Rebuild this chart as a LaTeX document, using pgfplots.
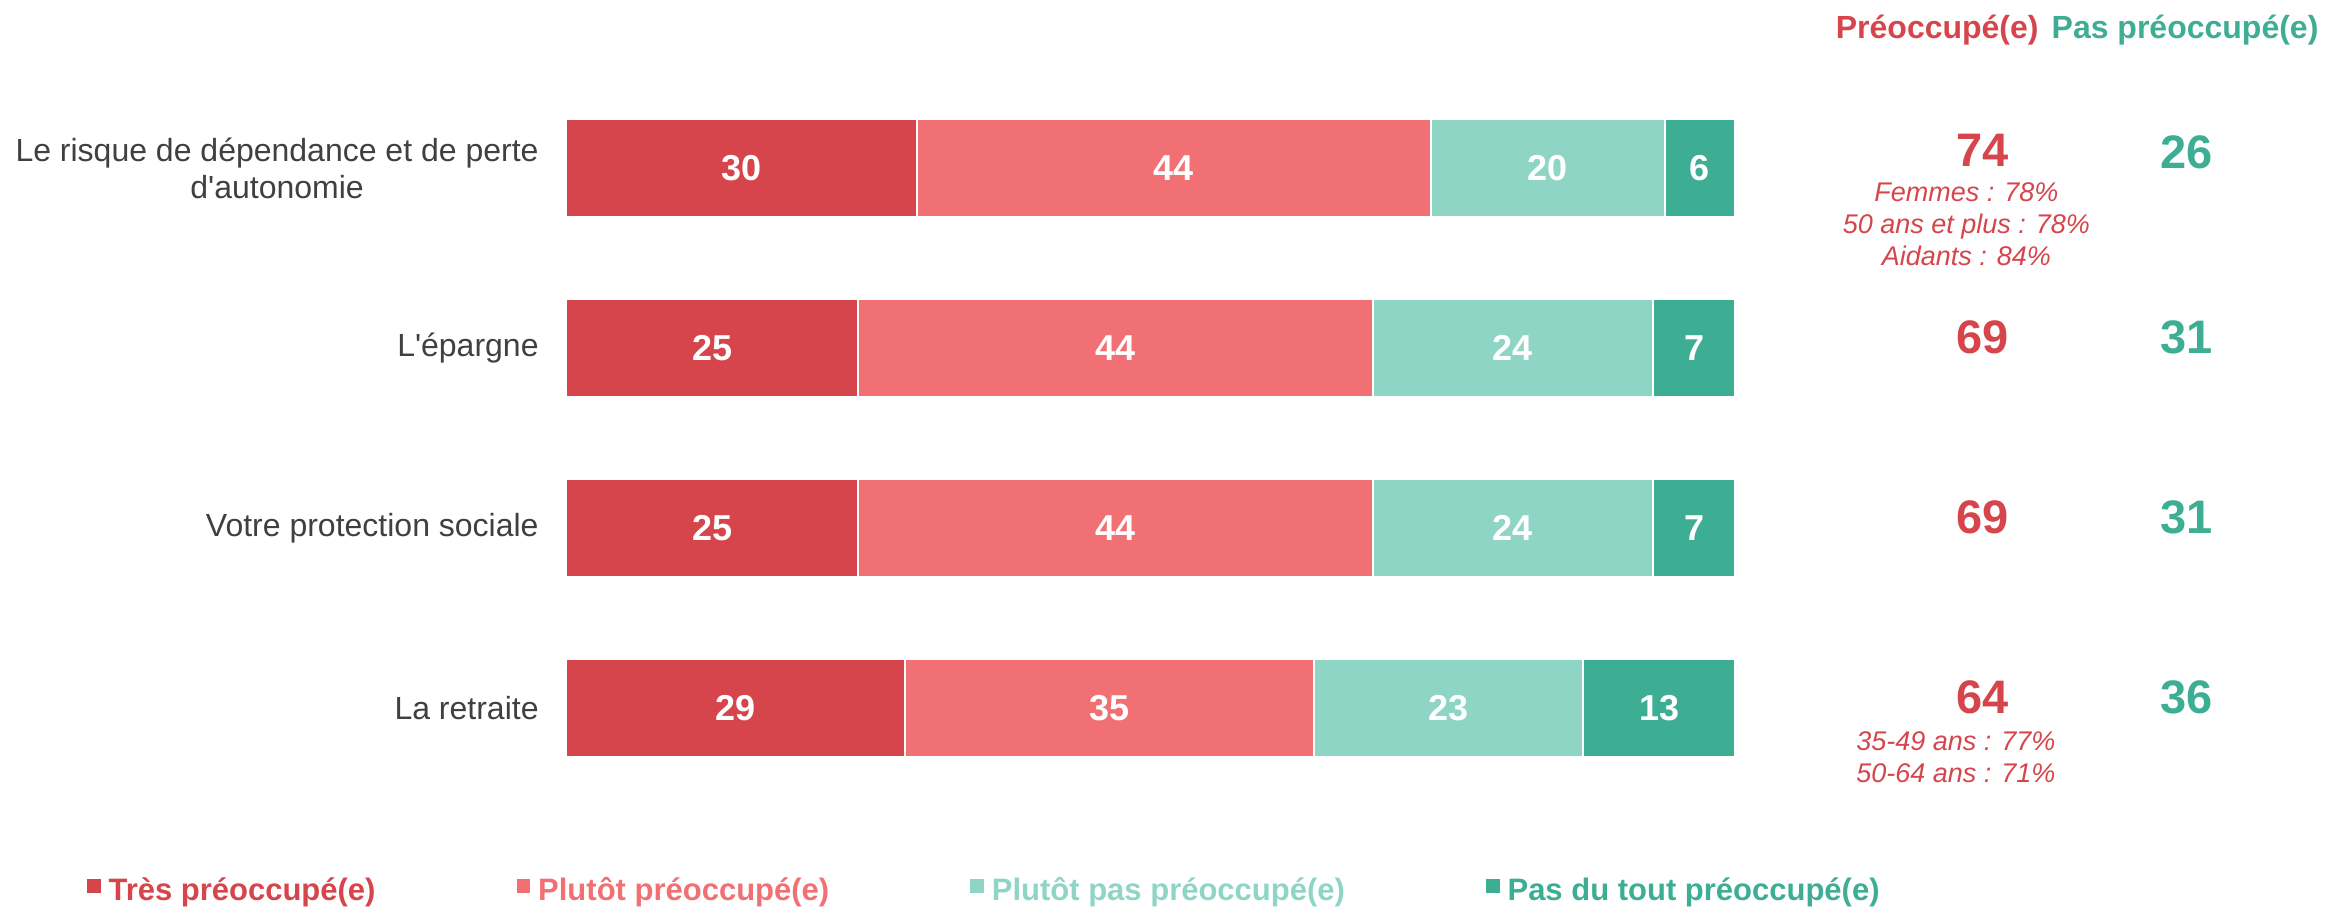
\documentclass[border=0pt]{standalone}
\usepackage{pgfplots}
\pgfplotsset{compat=1.18}
\usepackage{fontspec}
\setmainfont{Liberation Sans}
\definecolor{c1}{HTML}{D5454B}
\definecolor{c2}{HTML}{F07073}
\definecolor{c3}{HTML}{8FD5C6}
\definecolor{c4}{HTML}{3DAD94}
\definecolor{lab}{HTML}{404040}
\tikzset{
  bl/.style={text=white, font=\bfseries\fontsize{18}{20}\selectfont},
  cat/.style={text=lab, anchor=east, align=center, inner sep=0pt, xshift=-13.5pt, font=\fontsize{16}{18.5}\selectfont},
  hd/.style={font=\bfseries\fontsize{16}{19}\selectfont},
  tot/.style={font=\bfseries\fontsize{23.5}{26}\selectfont},
  sub/.style={text=c1, align=center, inner sep=0pt, font=\itshape\fontsize{13.5}{16}\selectfont},
}
\begin{document}
\begin{tikzpicture}
\useasboundingbox (0,0) rectangle (1164.5pt,453pt);
\begin{axis}[
  at={(283pt,54pt)}, anchor=south west,
  scale only axis, width=584.5pt, height=360pt,
  xbar stacked, bar width=49pt,
  xmin=0, xmax=100, ymin=-0.5, ymax=3.5, y dir=reverse,
  hide axis, clip=false,
  legend columns=4,
  legend cell align=left,
  legend style={at={(-0.4115,-0.128)}, anchor=west, draw=none, fill=none,
    inner sep=0pt, outer sep=0pt,
    font=\bfseries\fontsize{15.5}{18}\selectfont,
    /tikz/every odd column/.append style={column sep=1pt},
    /tikz/every even column/.append style={column sep=67.5pt}},
  legend image code/.code={\fill[#1] (0pt,-2pt) rectangle (7.8pt,6pt);},
]
\addplot[fill=c1, draw=white, line width=1pt] coordinates {(30,0) (25,1) (25,2) (29,3)};
\addlegendentry{\textcolor{c1}{Très préoccupé(e)}}
\addplot[fill=c2, draw=white, line width=1pt] coordinates {(44,0) (44,1) (44,2) (35,3)};
\addlegendentry{\textcolor{c2}{Plutôt préoccupé(e)}}
\addplot[fill=c3, draw=white, line width=1pt] coordinates {(20,0) (24,1) (24,2) (23,3)};
\addlegendentry{\textcolor{c3}{Plutôt pas préoccupé(e)}}
\addplot[fill=c4, draw=white, line width=1pt] coordinates {(6,0) (7,1) (7,2) (13,3)};
\addlegendentry{\textcolor{c4}{Pas du tout préoccupé(e)}}

\coordinate (a1) at (axis cs:15,0); \coordinate (a2) at (axis cs:52,0); \coordinate (a3) at (axis cs:84,0); \coordinate (a4) at (axis cs:97,0);
\coordinate (b1) at (axis cs:12.5,1); \coordinate (b2) at (axis cs:47,1); \coordinate (b3) at (axis cs:81,1); \coordinate (b4) at (axis cs:96.5,1);
\coordinate (c1) at (axis cs:12.5,2); \coordinate (c2) at (axis cs:47,2); \coordinate (c3) at (axis cs:81,2); \coordinate (c4) at (axis cs:96.5,2);
\coordinate (d1) at (axis cs:14.5,3); \coordinate (d2) at (axis cs:46.5,3); \coordinate (d3) at (axis cs:75.5,3); \coordinate (d4) at (axis cs:93.5,3);

\node[cat] at (axis cs:0,0) {Le risque de dépendance et de perte\\d\textquotesingle autonomie};
\node[cat] at (axis cs:0,1) {L\textquotesingle épargne};
\node[cat] at (axis cs:0,2) {Votre protection sociale};
\node[cat] at (axis cs:0,3) {La retraite};

\node[hd, text=c1] at (axis cs:117.3,-0.765) {Préoccupé(e)};
\node[hd, text=c4] at (axis cs:138.5,-0.765) {Pas préoccupé(e)};

\node[tot, text=c1] at (axis cs:121.2,-0.1) {74};
\node[tot, text=c4] at (axis cs:138.6,-0.085) {26};
\node[tot, text=c1] at (axis cs:121.2,0.94) {69};
\node[tot, text=c4] at (axis cs:138.6,0.94) {31};
\node[tot, text=c1] at (axis cs:121.2,1.94) {69};
\node[tot, text=c4] at (axis cs:138.6,1.94) {31};
\node[tot, text=c1] at (axis cs:121.2,2.94) {64};
\node[tot, text=c4] at (axis cs:138.6,2.94) {36};

\node[sub] at (axis cs:119.8,0.311) {Femmes : 78\%\\50 ans et plus : 78\%\\Aidants : 84\%};
\node[sub] at (axis cs:118.9,3.272) {35-49 ans : 77\%\\50-64 ans : 71\%};
\end{axis}
\node[bl] at (a1) {30}; \node[bl] at (a2) {44}; \node[bl] at (a3) {20}; \node[bl] at (a4) {6};
\node[bl] at (b1) {25}; \node[bl] at (b2) {44}; \node[bl] at (b3) {24}; \node[bl] at (b4) {7};
\node[bl] at (c1) {25}; \node[bl] at (c2) {44}; \node[bl] at (c3) {24}; \node[bl] at (c4) {7};
\node[bl] at (d1) {29}; \node[bl] at (d2) {35}; \node[bl] at (d3) {23}; \node[bl] at (d4) {13};
\end{tikzpicture}
\end{document}
